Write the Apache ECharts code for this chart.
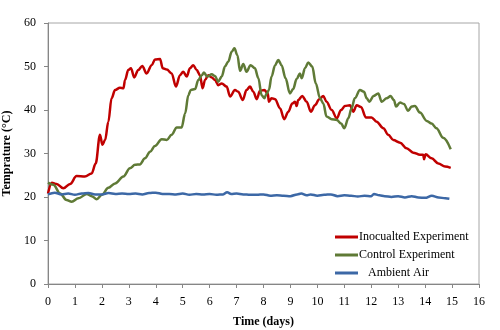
<!DOCTYPE html>
<html>
<head>
<meta charset="utf-8">
<script src="https://cdn.jsdelivr.net/npm/echarts@6/dist/echarts.min.js"></script>
<style>
  html, body { margin: 0; padding: 0; background: #fff; }
  #chart { width: 500px; height: 330px; }
</style>
</head>
<body>
<div id="chart"></div>
<script>
// Inoculated experiment (red)
var inocDays = [0, 0.14, 0.32, 0.57, 0.82, 1.06, 1.37, 1.62, 1.77, 1.93, 2.02, 2.12, 2.24, 2.36, 2.49, 2.67, 2.8, 2.86, 2.98, 3.08,
  3.2, 3.35, 3.5, 3.66, 3.85, 3.97, 4.16, 4.26, 4.41, 4.59, 4.75, 4.9, 5.02, 5.15, 5.27, 5.39, 5.52, 5.64, 5.74, 5.83,
  5.95, 6.08, 6.2, 6.32, 6.45, 6.63, 6.76, 6.94, 7.06, 7.23, 7.37, 7.5, 7.62, 7.75, 7.87, 8.03, 8.16, 8.2, 8.3, 8.43,
  8.61, 8.77, 8.92, 9.07, 9.17, 9.23, 9.29, 9.44, 9.6, 9.76, 9.91, 10.07, 10.22, 10.34, 10.53, 10.72, 10.88, 11.02, 11.21, 11.33,
  11.46, 11.62, 11.8, 12.01, 12.2, 12.45, 12.63, 12.82, 13.07, 13.31, 13.56, 13.81, 13.93, 13.96, 14.02, 14.24, 14.49, 14.74, 14.95];
var inocTemp = [20.8, 23.3, 23.0, 22.0, 23.0, 24.8, 24.7, 25.4, 27.7, 34.3, 32.0, 33.1, 37.3, 42.7, 44.6, 45.1, 45.0, 46.9, 49.2, 49.6,
  47.5, 49.2, 50.1, 48.4, 50.3, 51.6, 51.7, 49.6, 49.3, 48.4, 45.4, 48.0, 48.8, 47.7, 49.6, 50.3, 49.2, 48.0, 45.0, 46.9,
  48.0, 47.5, 46.9, 45.7, 46.1, 45.4, 43.1, 44.6, 44.2, 42.3, 44.6, 45.4, 44.2, 42.5, 44.4, 44.6, 43.8, 41.9, 42.7, 42.5,
  40.4, 37.9, 39.6, 41.5, 41.9, 40.9, 42.3, 43.2, 41.9, 39.6, 41.1, 42.5, 43.2, 41.9, 40.0, 38.1, 40.0, 40.9, 41.1, 39.6,
  41.1, 40.7, 38.3, 38.3, 37.3, 35.8, 34.3, 33.1, 32.5, 31.2, 30.2, 29.7, 29.7, 28.7, 29.8, 28.9, 27.7, 27.0, 26.7];

// Control experiment (green)
var ctrlDays = [0, 0.2, 0.45, 0.69, 0.88, 1.13, 1.44, 1.62, 1.81, 2.0, 2.24, 2.49, 2.8, 3.04, 3.23, 3.41, 3.6, 3.79, 3.97, 4.22,
  4.41, 4.59, 4.78, 4.96, 5.09, 5.21, 5.3, 5.46, 5.58, 5.71, 5.79, 5.91, 6.08, 6.2, 6.32, 6.45, 6.57, 6.69, 6.82, 6.92,
  7.03, 7.13, 7.25, 7.37, 7.52, 7.68, 7.81, 7.93, 8.03, 8.12, 8.2, 8.3, 8.43, 8.55, 8.67, 8.82, 8.98, 9.1, 9.23, 9.35,
  9.42, 9.54, 9.66, 9.81, 9.94, 10.1, 10.22, 10.34, 10.53, 10.72, 10.88, 11.0, 11.15, 11.27, 11.39, 11.58, 11.73, 11.83, 11.93, 12.08,
  12.26, 12.39, 12.57, 12.72, 12.84, 12.92, 13.07, 13.21, 13.37, 13.5, 13.62, 13.81, 14.06, 14.24, 14.42, 14.67, 14.95];
var ctrlTemp = [23.3, 22.8, 20.8, 19.3, 18.9, 19.7, 20.7, 20.2, 19.5, 20.5, 22.1, 23.1, 24.7, 26.6, 27.4, 27.5, 28.9, 30.4, 31.7, 33.3,
  33.1, 34.3, 36.0, 36.0, 39.2, 43.4, 44.6, 44.8, 46.9, 48.0, 48.6, 47.7, 48.2, 47.8, 46.5, 47.7, 50.0, 51.1, 53.4, 54.2,
  52.6, 49.0, 50.6, 48.8, 50.3, 49.6, 47.3, 43.4, 42.7, 43.8, 44.6, 47.7, 50.3, 51.5, 50.3, 47.3, 43.8, 44.8, 47.1, 48.4,
  47.3, 49.6, 50.9, 50.0, 46.1, 42.7, 41.5, 38.5, 37.9, 37.7, 36.9, 35.8, 38.1, 40.4, 42.7, 44.6, 44.2, 42.7, 41.9, 43.2,
  43.8, 41.9, 42.7, 43.2, 42.3, 40.8, 41.7, 41.4, 39.8, 40.8, 40.9, 39.4, 37.5, 36.9, 35.8, 33.6, 31.0];

// Ambient air (blue)
var airDays = [0, 0.25, 0.5, 0.75, 1.0, 1.25, 1.5, 1.75, 2.0, 2.25, 2.5, 2.75, 3.0, 3.25, 3.5, 3.75, 4.0, 4.25, 4.5, 4.75,
  5.0, 5.25, 5.5, 5.75, 6.0, 6.25, 6.5, 6.65, 6.8, 7.0, 7.25, 7.5, 7.75, 8.0, 8.25, 8.5, 8.75, 9.0, 9.25, 9.4,
  9.6, 9.75, 10.0, 10.25, 10.5, 10.75, 11.0, 11.25, 11.5, 11.75, 12.0, 12.1, 12.3, 12.5, 12.75, 13.0, 13.25, 13.5, 13.75, 14.0,
  14.25, 14.5, 14.75, 14.9];
var airTemp = [20.6, 21.0, 20.6, 20.8, 20.5, 20.8, 20.9, 20.6, 20.6, 20.9, 20.7, 20.8, 20.7, 20.8, 20.6, 20.9, 21.0, 20.7, 20.7, 20.6,
  20.8, 20.5, 20.7, 20.6, 20.7, 20.5, 20.6, 21.1, 20.7, 20.8, 20.6, 20.5, 20.5, 20.6, 20.3, 20.4, 20.3, 20.2, 20.6, 20.8,
  20.4, 20.6, 20.3, 20.5, 20.6, 20.2, 20.4, 20.3, 20.1, 20.3, 20.2, 20.7, 20.4, 20.2, 20.0, 20.2, 19.9, 20.2, 19.9, 19.8,
  20.3, 19.9, 19.7, 19.6];

var seriesNames = ['Inocualted Experiment', 'Control Experiment', '   Ambient Air'];
var seriesColors = ['#C00000', '#5F7A36', '#3C68A6'];

function pairs(xs, ys) {
  return xs.map(function (x, i) { return [x, ys[i]]; });
}

var myChart = echarts.init(document.getElementById('chart'), null, { renderer: 'canvas' });
var font = 'Liberation Serif';

myChart.setOption({
  animation: false,
  textStyle: { fontFamily: font },
  grid: {
    left: 48, right: 21, top: 23, bottom: 46,
    outerBoundsMode: 'none',
    containLabel: false,
    show: true, borderColor: '#A6A6A6', borderWidth: 1
  },
  legend: {
    orient: 'vertical',
    left: 330, top: 226,
    itemWidth: 23, itemHeight: 3, itemGap: 6,
    icon: 'rect',
    textStyle: { fontFamily: font, fontSize: 12, color: '#000', padding: [0, 0, 0, -4] },
    data: seriesNames
  },
  xAxis: {
    type: 'value', min: 0, max: 16, interval: 1,
    name: 'Time (days)', nameLocation: 'middle', nameGap: 32,
    nameTextStyle: { fontFamily: font, fontWeight: 'bold', fontSize: 12, color: '#000' },
    axisLine: { lineStyle: { color: '#868686' } },
    axisTick: { inside: false, length: 4, lineStyle: { color: '#868686' } },
    axisLabel: { color: '#000', fontFamily: font, fontSize: 12, margin: 12 },
    splitLine: { show: false }
  },
  yAxis: {
    type: 'value', min: 0, max: 60, interval: 10,
    name: 'Temprature (°C)', nameLocation: 'middle', nameGap: 28,
    nameTextStyle: { fontFamily: font, fontWeight: 'bold', fontSize: 12, color: '#000' },
    axisLine: { show: true, lineStyle: { color: '#868686' } },
    axisTick: { show: true, inside: false, length: 4, lineStyle: { color: '#868686' } },
    axisLabel: { color: '#000', fontFamily: font, fontSize: 12, margin: 12 },
    splitLine: { show: false }
  },
  series: [
    {
      name: seriesNames[0], type: 'line', showSymbol: false, smooth: 0.35, smoothMonotone: 'x',
      lineStyle: { width: 2.5, color: seriesColors[0] }, itemStyle: { color: seriesColors[0] },
      data: pairs(inocDays, inocTemp)
    },
    {
      name: seriesNames[1], type: 'line', showSymbol: false, smooth: 0.35, smoothMonotone: 'x',
      lineStyle: { width: 2.5, color: seriesColors[1] }, itemStyle: { color: seriesColors[1] },
      data: pairs(ctrlDays, ctrlTemp)
    },
    {
      name: seriesNames[2], type: 'line', showSymbol: false, smooth: 0.35, smoothMonotone: 'x',
      lineStyle: { width: 2.5, color: seriesColors[2] }, itemStyle: { color: seriesColors[2] },
      data: pairs(airDays, airTemp)
    }
  ]
});
</script>
</body>
</html>
